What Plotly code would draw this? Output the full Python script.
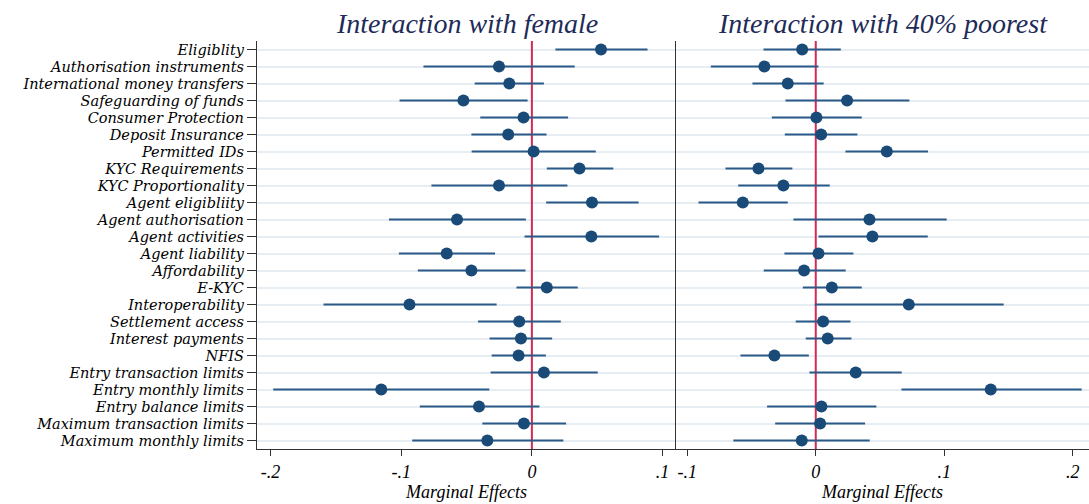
import plotly.graph_objects as go
from plotly.subplots import make_subplots

labels = ["Eligiblity", "Authorisation instruments", "International money transfers",
          "Safeguarding of funds", "Consumer Protection", "Deposit Insurance",
          "Permitted IDs", "KYC Requirements", "KYC Proportionality",
          "Agent eligibliity", "Agent authorisation", "Agent activities",
          "Agent liability", "Affordability", "E-KYC", "Interoperability",
          "Settlement access", "Interest payments", "NFIS",
          "Entry transaction limits", "Entry monthly limits", "Entry balance limits",
          "Maximum transaction limits", "Maximum monthly limits"]

female_est = [0.0529, -0.0252, -0.0173, -0.0524, -0.0064, -0.0181, 0.0013, 0.0364,
              -0.0252, 0.0460, -0.0573, 0.0455, -0.0652, -0.0463, 0.0114, -0.0937,
              -0.0097, -0.0084, -0.0102, 0.0092, -0.1153, -0.0405, -0.0061, -0.0341]
female_lo = [0.0180, -0.0830, -0.0438, -0.1013, -0.0395, -0.0463, -0.0461, 0.0114,
             -0.0769, 0.0109, -0.1094, -0.0056, -0.1018, -0.0873, -0.0118, -0.1595,
             -0.0412, -0.0324, -0.0308, -0.0316, -0.1980, -0.0858, -0.0379, -0.0916]
female_hi = [0.0885, 0.0328, 0.0092, -0.0033, 0.0277, 0.0112, 0.0489, 0.0623,
             0.0272, 0.0817, -0.0046, 0.0974, -0.0282, -0.0049, 0.0351, -0.0270,
             0.0221, 0.0155, 0.0107, 0.0504, -0.0326, 0.0058, 0.0262, 0.0241]

poor_est = [-0.0106, -0.0400, -0.0218, 0.0244, 0.0005, 0.0042, 0.0553, -0.0446,
            -0.0252, -0.0568, 0.0418, 0.0441, 0.0021, -0.0091, 0.0125, 0.0724,
            0.0057, 0.0093, -0.0322, 0.0311, 0.1362, 0.0044, 0.0034, -0.0109]
poor_lo = [-0.0407, -0.0817, -0.0493, -0.0236, -0.0342, -0.0241, 0.0231, -0.0703,
           -0.0604, -0.0913, -0.0174, 0.0021, -0.0244, -0.0405, -0.0101, -0.0008,
           -0.0156, -0.0078, -0.0586, -0.0049, 0.0667, -0.0379, -0.0316, -0.0641]
poor_hi = [0.0195, 0.0021, 0.0062, 0.0729, 0.0358, 0.0324, 0.0874, -0.0182,
           0.0109, -0.0218, 0.1019, 0.0872, 0.0293, 0.0233, 0.0358, 0.1463,
           0.0270, 0.0278, -0.0054, 0.0669, 0.2070, 0.0472, 0.0384, 0.0420]

titles = ["Interaction with female", "Interaction with 40% poorest"]
left_ticks = [-0.2, -0.1, 0, 0.1]
left_ticktext = ["-.2", "-.1", "0", ".1"]
right_ticks = [-0.1, 0, 0.1, 0.2]
right_ticktext = ["-.1", "0", ".1", ".2"]

SERIF = "Liberation Serif"
LABSERIF = "DejaVu Serif"
DOT = "#1a4a78"
BAR = "#2b5a88"
RED = "#d42a52"
TITLE = "#1e2b58"

W, H = 1089, 504
ml, mr, mt, mb = 257, 0, 41, 55
pw = W - ml - mr
split = (676 - ml) / pw

n = len(labels)
ypos = list(range(n))

fig = make_subplots(rows=1, cols=2, horizontal_spacing=0,
                    column_widths=[split, 1 - split], shared_yaxes=False)

for col, (est, lo, hi) in enumerate([(female_est, female_lo, female_hi),
                                      (poor_est, poor_lo, poor_hi)], start=1):
    # reference line at zero (drawn first so the markers sit on top)
    fig.add_trace(go.Scatter(x=[0, 0], y=[-0.5, n - 0.5], mode="lines",
                             line=dict(color=RED, width=2),
                             showlegend=False, hoverinfo="skip"), row=1, col=col)
    fig.add_trace(go.Scatter(
        x=est, y=ypos, mode="markers",
        marker=dict(color=DOT, size=12, line=dict(width=0)),
        error_x=dict(type="data", symmetric=False,
                     array=[h - e for h, e in zip(hi, est)],
                     arrayminus=[e - l for e, l in zip(est, lo)],
                     width=0, thickness=2, color=BAR),
        showlegend=False, hoverinfo="skip"), row=1, col=col)

tickfont = dict(family=SERIF, size=18, color="black", style="italic")
ylabfont = dict(family=LABSERIF, size=14.5, color="black", style="italic")
fig.update_xaxes(range=[-0.2104, 0.1103], tickvals=left_ticks, ticktext=left_ticktext,
                 row=1, col=1)
fig.update_xaxes(range=[-0.1088, 0.2127], tickvals=right_ticks, ticktext=right_ticktext,
                 row=1, col=2)
fig.update_xaxes(showgrid=False, zeroline=False, showline=True, linecolor="#333333",
                 linewidth=1.3, ticks="outside", ticklen=6, tickcolor="#333333",
                 tickfont=tickfont,
                 title=dict(text="Marginal Effects", standoff=0,
                            font=dict(family=SERIF, size=18, color="black", style="italic")))
fig.update_yaxes(tickmode="array", tickvals=ypos, ticktext=labels,
                 range=[n - 0.5, -0.5],
                 showgrid=True, gridcolor="#e6eef3", gridwidth=1.5, zeroline=False,
                 showline=True, linecolor="#333333", linewidth=1.3)
fig.update_yaxes(ticks="outside", ticklen=9, tickcolor="#333333", tickfont=ylabfont,
                 row=1, col=1)
fig.update_yaxes(showticklabels=False, ticks="", row=1, col=2)

for i, t in enumerate(titles):
    dom = [0, split] if i == 0 else [split, 1]
    fig.add_annotation(text=t, xref="paper", yref="paper", x=(dom[0] + dom[1]) / 2,
                       xanchor="center", y=1, yshift=0, yanchor="bottom", showarrow=False,
                       font=dict(family=SERIF, size=28, color=TITLE, style="italic"))

fig.update_layout(width=W, height=H, margin=dict(l=ml, r=mr, t=mt, b=mb),
                  plot_bgcolor="white", paper_bgcolor="white")
fig.write_html("out.html", config={"displayModeBar": False},
               post_script="document.body.style.margin='0';document.body.style.overflow='hidden';")
